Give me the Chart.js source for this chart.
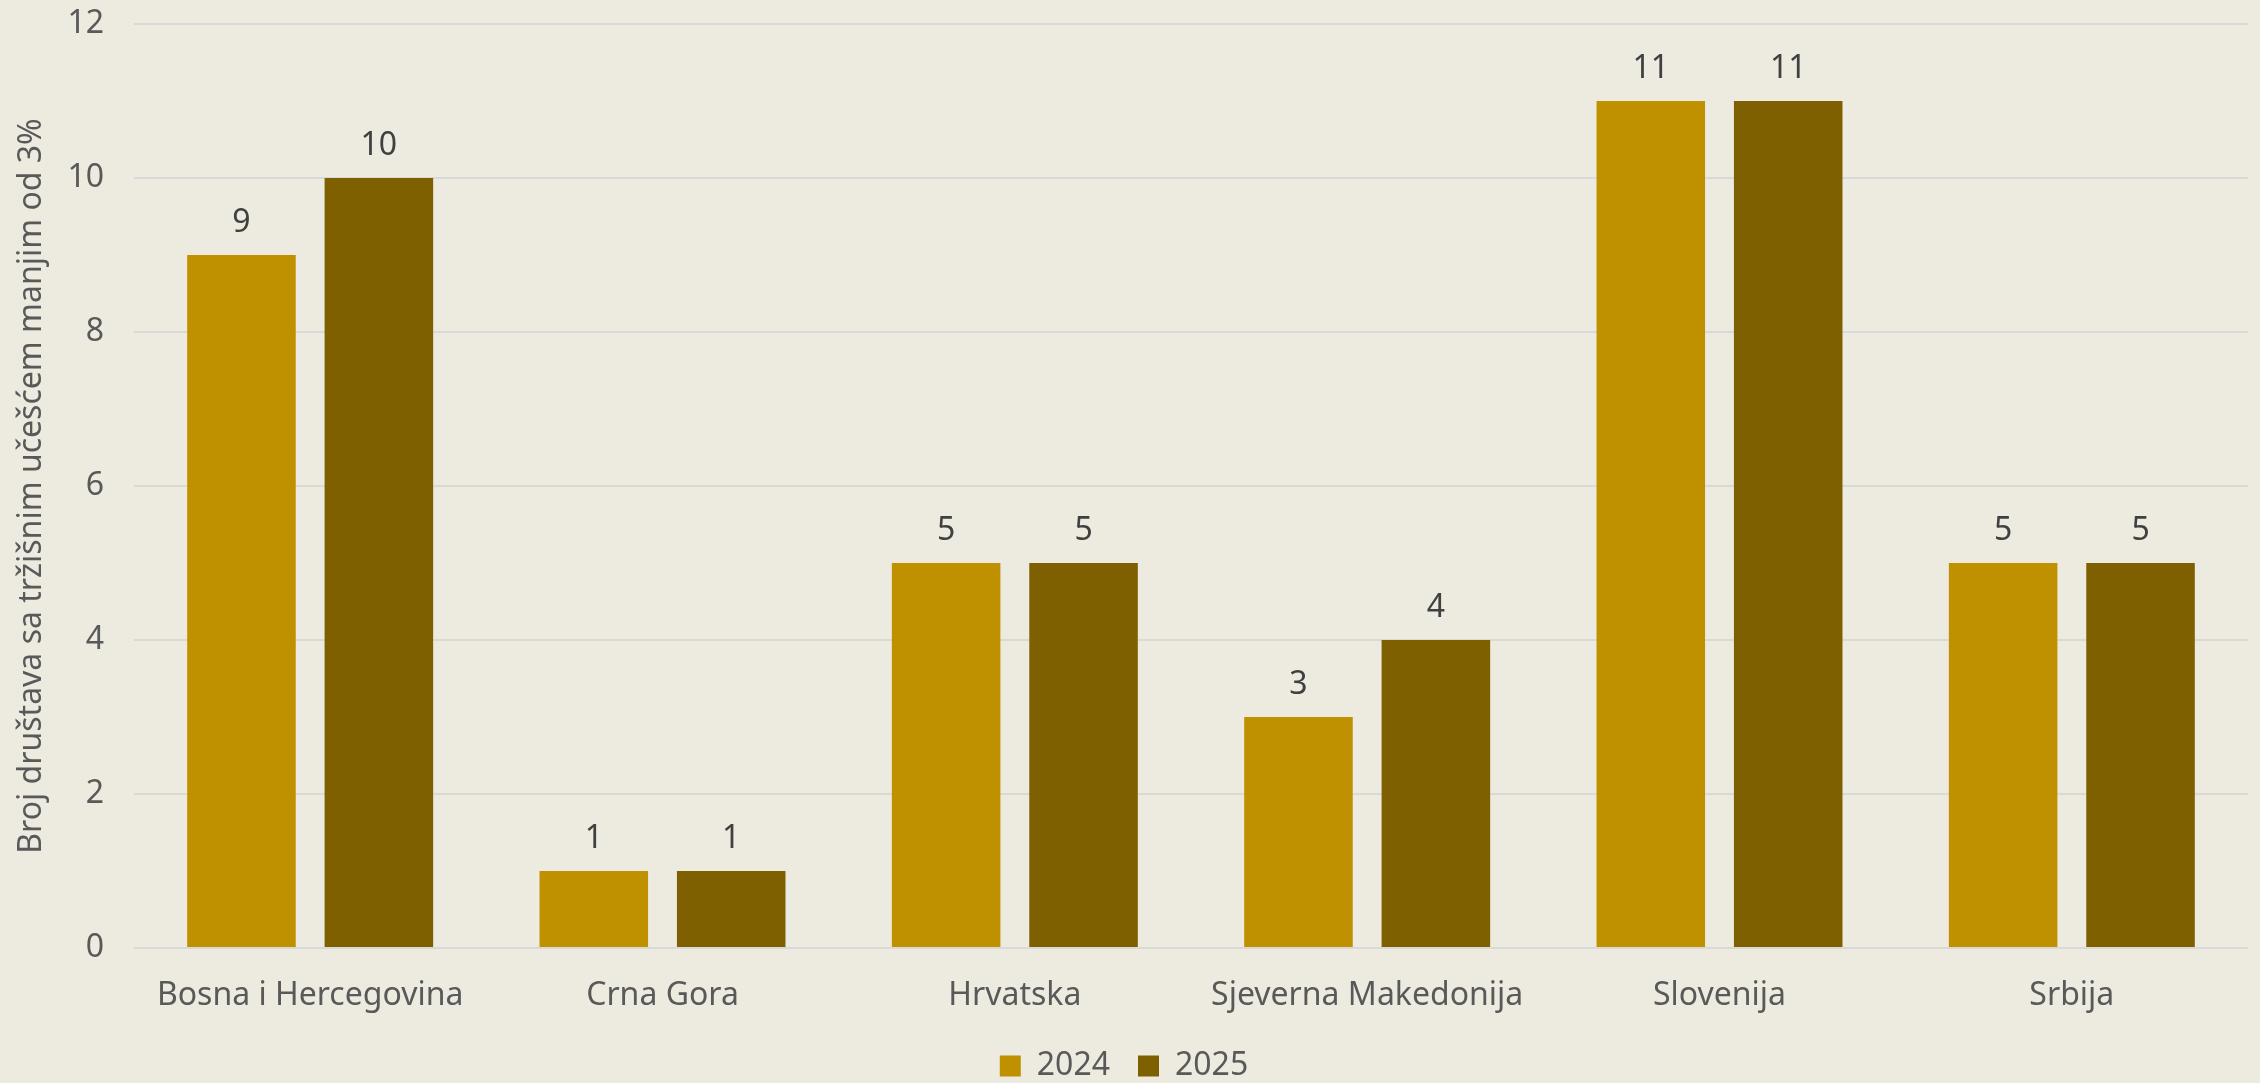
<!DOCTYPE html>
<html>
<head>
<meta charset="utf-8">
<script src="https://cdn.jsdelivr.net/npm/chart.js@4.4.1/dist/chart.umd.min.js"></script>
<style>
  html, body { margin: 0; padding: 0; background: #EDEBE0; overflow: hidden; height: 1083px; }
  /* a little taller than the window so the legend sits low like the original */
  #wrap { width: 2260px; height: 1092px; }
</style>
</head>
<body>
<div id="wrap"><canvas id="chart"></canvas></div>
<script>
// ===== Data =====
const countries = ['Bosna i Hercegovina', 'Crna Gora', 'Hrvatska', 'Sjeverna Makedonija', 'Slovenija', 'Srbija'];
const values2024 = [9, 1, 5, 3, 11, 5];
const values2025 = [10, 1, 5, 4, 11, 5];
const yTicks = [0, 2, 4, 6, 8, 10, 12];
const yTitle = 'Broj društava sa tržišnim učešćem manjim od 3%';

const FONT = '"Noto Sans", "Open Sans", sans-serif';
const TXT = '#595959';

// value labels above bars (no datalabels plugin offline)
const barLabels = {
    id: 'barLabels',
    afterDatasetsDraw(chart) {
        const ctx = chart.ctx;
        ctx.save();
        ctx.font = `32px ${FONT}`;
        ctx.fillStyle = '#404040';
        ctx.textAlign = 'center';
        ctx.textBaseline = 'middle';
        chart.data.datasets.forEach((ds, i) => {
            chart.getDatasetMeta(i).data.forEach((bar, j) => {
                ctx.fillText(ds.data[j], bar.x, bar.y - 32);
            });
        });
        ctx.restore();
    }
};

new Chart(document.getElementById('chart'), {
    type: 'bar',
    data: {
        labels: countries,
        datasets: [
            { label: '2024', data: values2024, backgroundColor: '#BF9000' },
            { label: '2025', data: values2025, backgroundColor: '#7F6000' }
        ]
    },
    options: {
        responsive: true,
        maintainAspectRatio: false,
        animation: false,
        devicePixelRatio: 1,
        categoryPercentage: 0.78,
        barPercentage: 0.79,
        layout: { padding: { top: 24, right: 12, left: 0, bottom: 0 } },
        plugins: {
            legend: {
                position: 'bottom',
                labels: {
                    font: { family: FONT, size: 32 },
                    color: TXT,
                    boxWidth: 21,
                    boxHeight: 21,
                    padding: 28
                }
            },
            tooltip: { enabled: false }
        },
        scales: {
            x: {
                afterFit: scale => { scale.height = 74; },
                grid: { display: false, drawTicks: false },
                border: { display: false },
                ticks: {
                    font: { family: FONT, size: 32 },
                    color: TXT,
                    padding: 29,
                    maxRotation: 0
                }
            },
            y: {
                min: 0,
                max: 12,
                afterBuildTicks: scale => { scale.ticks = yTicks.map(v => ({ value: v })); },
                afterFit: scale => {
                    scale.width = 134;
                    scale.paddingTop = 0;
                    scale.paddingBottom = 0;
                },
                grid: { color: '#D9D9D9', lineWidth: 2, drawTicks: false },
                border: { display: false },
                title: {
                    display: true,
                    text: yTitle,
                    font: { family: FONT, size: 32 },
                    color: TXT,
                    padding: { top: 13, bottom: 0 }
                },
                ticks: {
                    font: { family: FONT, size: 32 },
                    color: TXT,
                    padding: 30
                }
            }
        }
    },
    plugins: [barLabels]
});
</script>
</body>
</html>
